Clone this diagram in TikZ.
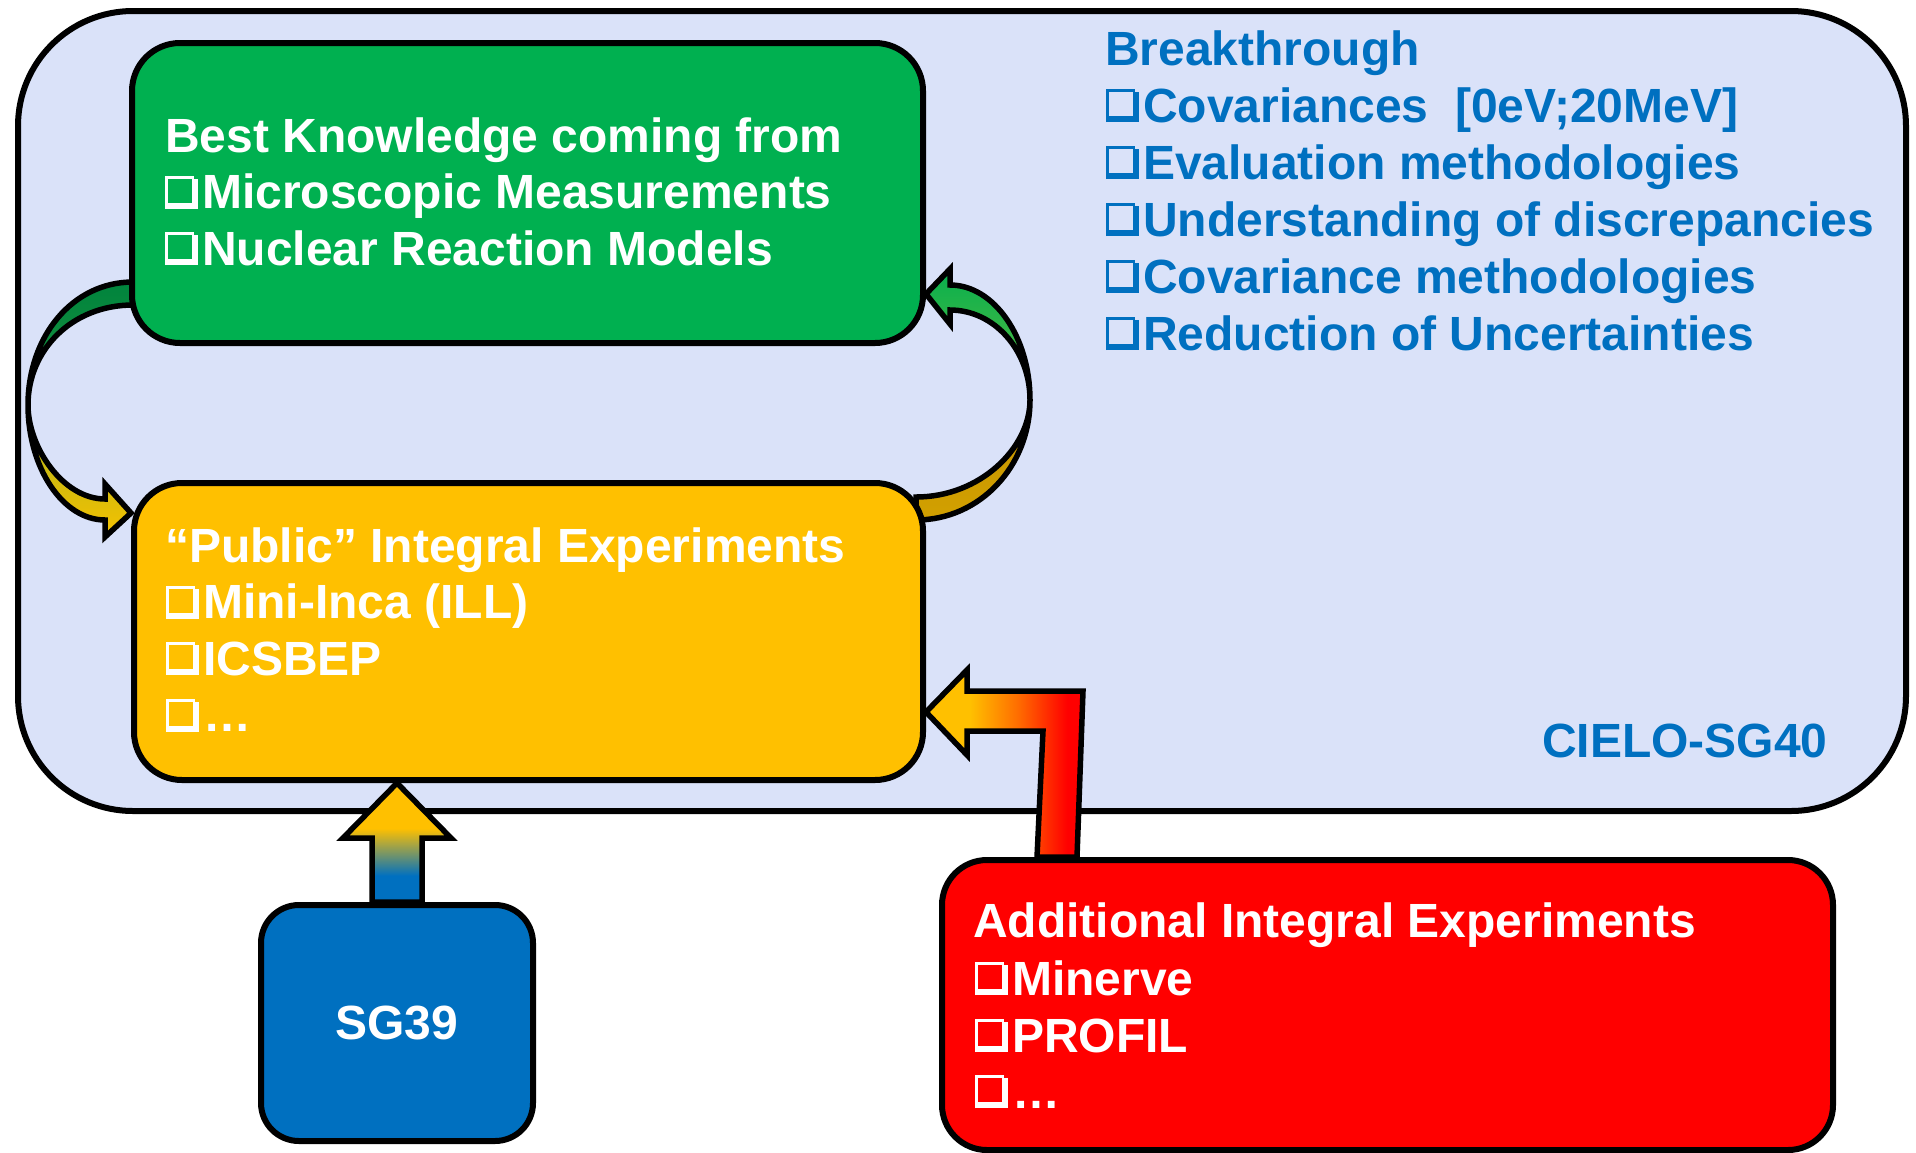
\documentclass[tikz,border=0pt]{standalone}
\usepackage{fontspec}
\setmainfont{Liberation Sans}
\usetikzlibrary{calc}

\definecolor{panel}{RGB}{218,226,249}
\definecolor{kgreen}{RGB}{0,176,80}
\definecolor{kgold}{RGB}{255,192,0}
\definecolor{kblue}{RGB}{0,112,192}
\definecolor{kred}{RGB}{255,0,0}
\definecolor{korange}{RGB}{255,110,0}
\definecolor{lgdark}{RGB}{0,132,61}
\definecolor{lgmid}{RGB}{30,146,60}
\definecolor{lyolive}{RGB}{168,178,30}
\definecolor{lygold}{RGB}{245,194,0}
\definecolor{rgoldA}{RGB}{196,148,0}
\definecolor{rgoldB}{RGB}{210,160,0}
\definecolor{rgreenA}{RGB}{8,176,78}
\definecolor{rgreenB}{RGB}{96,188,62}

% shadings for the two straight block arrows
\pgfdeclareverticalshading{sgrise}{100bp}{color(0bp)=(kblue); color(36bp)=(kblue); color(56bp)=(kgold); color(100bp)=(kgold)}
\pgfdeclarehorizontalshading{feed}{100bp}{color(0bp)=(kgold); color(39bp)=(kgold); color(54bp)=(korange); color(70bp)=(kred); color(100bp)=(kred)}

% shadowed check box used as bullet
\newcommand\chk{\leavevmode\hbox to 37pt{%
  \rlap{\vrule width 3pt height 33pt depth 0pt}%
  \rlap{\vrule width 29pt height 33pt depth -30pt}%
  \rlap{\kern27pt\vrule width 6pt height 30pt depth 0pt}%
  \rlap{\kern2pt\vrule width 31pt height 6pt depth 0pt}%
  \hss}}

\pgfdeclarelayer{bg}
\pgfdeclarelayer{mid}
\pgfsetlayers{bg,mid,main}

\tikzset{
  box/.style={draw=black, line width=6pt, rounded corners=#1, anchor=north west, inner sep=0pt},
  box/.default=48pt,
  ln/.style={anchor=base west, inner sep=0pt, font=\fontsize{48}{56}\selectfont\bfseries},
  outline/.style={draw=black, line width=5.5pt},
}

\begin{document}
\begin{tikzpicture}[x=1pt,y=-1pt]
\useasboundingbox (0,0) rectangle (1916,1152);

% boxes
\node[box=48pt, fill=kgreen, minimum width=791pt, minimum height=300pt] (best) at (129,40) {};
\node[box=48pt, fill=kgold, minimum width=789pt, minimum height=297pt] (public) at (131,480) {};
\node[box=38pt, fill=kblue, minimum width=272pt, minimum height=236pt] (sg39) at (258,902) {};
\node[box=45pt, fill=kred, minimum width=891pt, minimum height=290pt] (extra) at (939,857) {};

\begin{pgfonlayer}{bg}
  \node[box=115pt, fill=panel, minimum width=1888pt, minimum height=800pt] (cielo) at (15,8) {};
\end{pgfonlayer}

\begin{pgfonlayer}{mid}
  % left loop: green back part, then yellow front part with head
  \path[outline, top color=lgdark, bottom color=lgmid]
    (133,282) .. controls (72,282) and (28,337) .. (28,405)
    .. controls (28,350) and (72,305) .. (133,305) -- cycle;
  \path[outline, top color=lyolive, bottom color=lygold]
    (28,405) .. controls (28,468) and (63,520) .. (105,520)
    -- (105,537) -- (public.west |- 0,513) -- (105,484) -- (105,499)
    .. controls (63,499) and (28,447) .. (28,405) -- cycle;

  % right loop: gold back part, then green front part with head
  \path[outline, top color=rgoldA, bottom color=rgoldB]
    (916,520) .. controls (980,520) and (1030,466) .. (1030,400)
    .. controls (1030,448) and (980,497) .. (916,497) -- cycle;
  \path[outline, top color=rgreenA, bottom color=rgreenB]
    (1030,400) .. controls (1030,337) and (994,285) .. (950,285)
    -- (950,269) -- (best.east |- 0,294) -- (950,324) -- (950,310)
    .. controls (994,310) and (1030,350) .. (1030,400) -- cycle;

  % SG39 feeding the public experiments
  \coordinate (sgtip) at (sg39.north |- public.south);
  \coordinate (sgfoot) at (sg39.north);
  \path[outline, shade, shading=sgrise]
    ($(sgfoot)+(-25,0)$) -- ($(sgtip)+(-25,55)$) -- ($(sgtip)+(-54,55)$)
    -- (sgtip) -- ($(sgtip)+(54,55)$) -- ($(sgtip)+(25,55)$)
    -- ($(sgfoot)+(25,0)$) -- cycle;

  % additional experiments feeding the public experiments
  \coordinate (rtip) at ($(public.north east)+(0,232)$);
  \coordinate (rfoot) at ($(extra.north west)+(118,0)$);
  \path[outline, shade, shading=feed]
    (rtip) -- ($(rtip)+(41,-42)$) -- ($(rtip)+(41,-21)$) -- ($(rtip)+(157,-21)$)
    -- ($(rfoot)+(20,0)$) -- ($(rfoot)+(-20,0)$) -- ($(rtip)+(117,19)$)
    -- ($(rtip)+(41,19)$) -- ($(rtip)+(41,43)$) -- cycle;
\end{pgfonlayer}

% texts
\node[ln, white] (b1) at (165,152) {Best Knowledge coming from};
\node[ln, white] (b2) at (165,208.5) {\chk Microscopic Measurements};
\node[ln, white] (b3) at (165,265) {\chk Nuclear Reaction Models};

\node[ln, kblue] (k1) at (1105,65) {Breakthrough};
\node[ln, kblue] (k2) at (1106,122) {\chk Covariances\ \ [0eV;20MeV]};
\node[ln, kblue] (k3) at (1106,179) {\chk Evaluation methodologies};
\node[ln, kblue] (k4) at (1106,236) {\chk Understanding of discrepancies};
\node[ln, kblue] (k5) at (1106,293) {\chk Covariance methodologies};
\node[ln, kblue] (k6) at (1106,350) {\chk Reduction of Uncertainties};
\node[ln, kblue] (cielolabel) at (1542,757) {CIELO-SG40};

\node[ln, white] (p1) at (165,562) {“Public” Integral Experiments};
\node[ln, white] (p2) at (166,618.5) {\chk Mini-Inca (ILL)};
\node[ln, white] (p3) at (166,675) {\chk ICSBEP};
\node[ln, white] (p4) at (166,731.5) {\chk …};

\node[ln, white] (a1) at (973,937) {Additional Integral Experiments};
\node[ln, white] (a2) at (975,995) {\chk Minerve};
\node[ln, white] (a3) at (975,1052) {\chk PROFIL};
\node[ln, white] (a4) at (975,1108) {\chk …};

\node[inner sep=0pt, white, font=\fontsize{48}{56}\selectfont\bfseries] (sglabel) at (sg39.center) {SG39};
\end{tikzpicture}
\end{document}
